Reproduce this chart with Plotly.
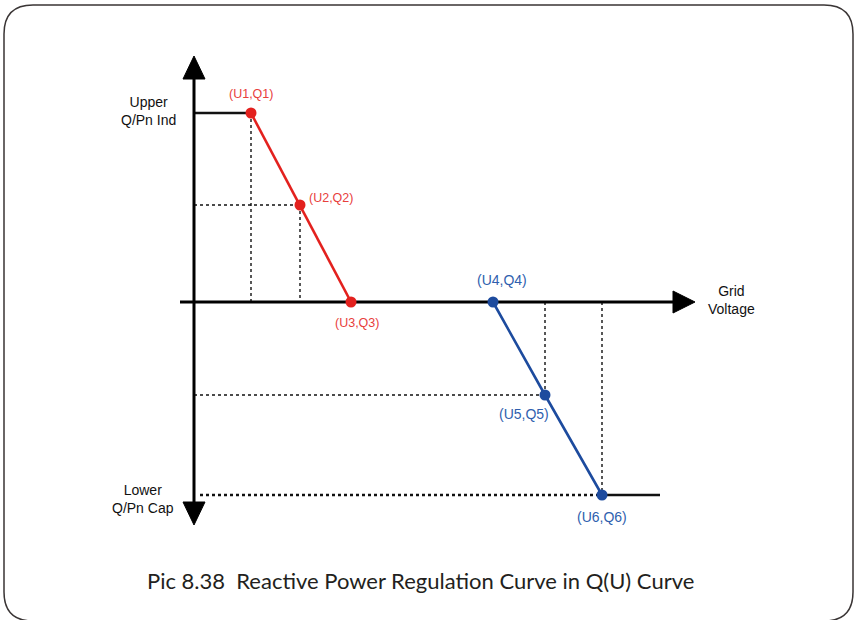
import plotly.graph_objects as go

# Q(U) characteristic points (voltage units, reactive power units)
red_names = ["(U1,Q1)", "(U2,Q2)", "(U3,Q3)"]
red_u = [5.7, 10.6, 15.7]
red_q = [18.9, 9.7, 0.0]

blue_names = ["(U4,Q4)", "(U5,Q5)", "(U6,Q6)"]
blue_u = [29.9, 35.1, 40.8]
blue_q = [0.0, -9.3, -19.3]

# Limit segments continuing beyond the curve ends
u_end = 46.6

RED = "#e3211e"
BLUE = "#1d4b9e"
RED_TXT = "#e8403c"
BLUE_TXT = "#2f5fae"
FONT = "Liberation Sans, Arial, sans-serif"

fig = go.Figure()

# Characteristic curves
fig.add_trace(go.Scatter(x=red_u, y=red_q, mode="lines+markers",
                         line=dict(color=RED, width=2.6),
                         marker=dict(color=RED, size=11), hoverinfo="skip"))
fig.add_trace(go.Scatter(x=blue_u, y=blue_q, mode="lines+markers",
                         line=dict(color=BLUE, width=2.6),
                         marker=dict(color=BLUE, size=11), hoverinfo="skip"))

shapes = []

def seg(x0, y0, x1, y1, width=1.4, dash="dot", color="#111111"):
    shapes.append(dict(type="line", xref="x", yref="y", x0=x0, y0=y0, x1=x1, y1=y1,
                       line=dict(color=color, width=width, dash=dash), layer="below"))

# Projection guides
seg(red_u[0], red_q[0], red_u[0], 0)
seg(0, red_q[1], red_u[1], red_q[1])
seg(red_u[1], red_q[1], red_u[1], 0)
seg(blue_u[1], 0, blue_u[1], blue_q[1])
seg(0, blue_q[1], blue_u[1], blue_q[1])
seg(blue_u[2], 0, blue_u[2], blue_q[2])
seg(0.6, blue_q[2], blue_u[2], blue_q[2], width=2.6)

# Saturation limits
seg(0, red_q[0], red_u[0], red_q[0], width=2.6, dash="solid")
seg(blue_u[2], blue_q[2], u_end, blue_q[2], width=2.6, dash="solid")

# Axes
seg(0, 22.4, 0, -20.1, width=3, dash="solid", color="#000000")
seg(-1.4, 0, 47.9, 0, width=3, dash="solid", color="#000000")

def tri(pts):
    p = "M {} {} L {} {} L {} {} Z".format(*[v for xy in pts for v in xy])
    shapes.append(dict(type="path", xref="x", yref="y", path=p,
                       fillcolor="#000000", line=dict(color="#000000", width=1)))

tri([(0, 24.6), (-1.1, 22.3), (1.1, 22.3)])
tri([(0, -22.3), (-1.1, -20.0), (1.1, -20.0)])
tri([(50.1, 0), (47.9, 1.1), (47.9, -1.1)])

# Rounded frame
x0, x1, y0, y1, r = -19.0, 65.9, -31.9, 29.7, 2.9
frame = (f"M {x0+r} {y1} L {x1-r} {y1} Q {x1} {y1} {x1} {y1-r} "
         f"L {x1} {y0+r} Q {x1} {y0} {x1-r} {y0} L {x0+r} {y0} "
         f"Q {x0} {y0} {x0} {y0+r} L {x0} {y1-r} Q {x0} {y1} {x0+r} {y1} Z")
shapes.append(dict(type="path", xref="x", yref="y", path=frame,
                   line=dict(color="#3a3535", width=1.5)))

annotations = []
def label(x, y, text, color, dx, dy, xanchor="center", size=12):
    annotations.append(dict(x=x, y=y, xref="x", yref="y", text=text, showarrow=False,
                            xanchor=xanchor, yanchor="middle", xshift=dx, yshift=dy,
                            font=dict(family=FONT, size=size, color=color)))

label(red_u[0], red_q[0], red_names[0], RED_TXT, 0, 19, size=12.5)
label(red_u[1], red_q[1], red_names[1], RED_TXT, 7, 7, xanchor="left", size=12.5)
label(red_u[2], red_q[2], red_names[2], RED_TXT, 6, -21, size=12.5)
label(blue_u[0], blue_q[0], blue_names[0], BLUE_TXT, 9, 22, size=14)
label(blue_u[1], blue_q[1], blue_names[1], BLUE_TXT, -21, -19, size=14)
label(blue_u[2], blue_q[2], blue_names[2], BLUE_TXT, 0, -22, size=14)

label(0, red_q[0], "Upper<br>Q/Pn Ind", "#111111", -46, 2, size=14)
label(0, blue_q[2], "Lower<br>Q/Pn Cap", "#111111", -51, -4, size=14)
label(50.1, 0, "Grid<br>Voltage", "#111111", 36, 2, size=14)

annotations.append(dict(x=0.492, y=(620 - 580) / 620, xref="paper", yref="paper",
                        text="Pic 8.38  Reactive Power Regulation Curve in Q(U) Curve",
                        showarrow=False, xanchor="center", yanchor="middle",
                        font=dict(family="Lato, sans-serif", size=22, color="#231f20")))

fig.update_layout(
    width=854, height=620,
    margin=dict(l=0, r=0, t=0, b=0),
    paper_bgcolor="white", plot_bgcolor="white",
    showlegend=False,
    xaxis=dict(range=[-19.4, 66.0], visible=False, fixedrange=True),
    yaxis=dict(range=[-31.8, 30.2], visible=False, fixedrange=True),
    shapes=shapes, annotations=annotations,
)

fig.write_html("out.html")
